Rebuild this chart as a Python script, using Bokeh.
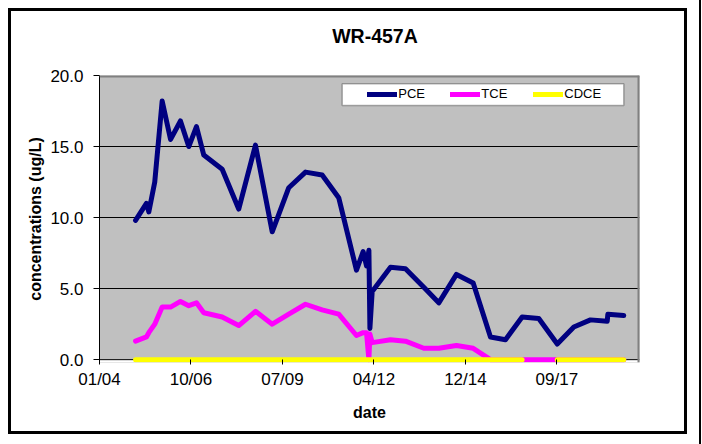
import numpy as np
import pandas as pd
from bokeh.plotting import figure
from bokeh.models import (ColumnDataSource, Range1d, FixedTicker, DatetimeTickFormatter,
                          NumeralTickFormatter, Legend, LegendItem, BoxAnnotation, Span, Title)
from bokeh.embed import file_html
from bokeh.resources import INLINE

# ---- data ----
dates = ["2005-02-11", "2005-06-10", "2005-07-06", "2005-09-09", "2005-11-29",
         "2006-03-01", "2006-06-17", "2006-09-16", "2006-12-09", "2007-02-27",
         "2007-09-16", "2008-03-15", "2008-09-14", "2009-03-16", "2009-09-13",
         "2010-03-15", "2010-09-13", "2011-03-13", "2011-09-23", "2011-12-05",
         "2012-01-11", "2012-02-06", "2012-02-17", "2012-03-13", "2012-09-29",
         "2013-03-12", "2013-09-28", "2014-03-11", "2014-09-20", "2015-03-22",
         "2015-09-27", "2016-03-09", "2016-09-07", "2017-03-08", "2017-09-26",
         "2018-03-26", "2018-09-24", "2019-03-26", "2019-04-02", "2019-09-23"]
pce = [9.8, 11.0, 10.4, 12.5, 18.2, 15.5, 16.8, 15.0, 16.4, 14.4,
       13.4, 10.6, 15.1, 9.0, 12.1, 13.2, 13.0, 11.4, 6.3, 7.6,
       6.6, 7.7, 2.2, 4.8, 6.5, 6.4, 5.1, 4.0, 6.0, 5.4,
       1.6, 1.4, 3.0, 2.9, 1.1, 2.3, 2.8, 2.7, 3.2, 3.1]
tce = [1.3, 1.6, 1.9, 2.5, 3.7, 3.7, 4.1, 3.8, 4.0, 3.3,
       3.0, 2.4, 3.4, 2.5, 3.2, 3.9, 3.5, 3.2, 1.7, 1.9,
       1.9, 0.0, 1.8, 1.2, 1.4, 1.3, 0.8, 0.8, 1.0, 0.8,
       0.0, 0.0, 0.0, 0.0, 0.0, 0.0, 0.0, 0.0, 0.0, 0.0]
cdce = [0.0] * 33 + [np.nan] + [0.0] * 6

series_names = ["PCE", "TCE", "CDCE"]
series_colors = ["#000080", "#FF00FF", "#FFFF00"]

x_tick_dates = ["2004-01-14", "2006-10-10", "2009-07-06", "2012-04-01", "2014-12-27", "2017-09-22"]
x_start, x_end = "2004-01-14", "2020-03-13"
y_ticks = [0, 5, 10, 15, 20]
y_grid = [5, 10, 15]

title_text = "WR-457A"
x_label = "date"
y_label = "concentrations (ug/L)"

# ---- build ----
def ms(s):
    return pd.Timestamp(s).value / 1e6

src = ColumnDataSource(dict(date=pd.to_datetime(dates), PCE=pce, TCE=tce, CDCE=cdce))

FONT = "Liberation Sans"
FL, FB = 99, 362.1   # frame left / bottom in page px
p = figure(width=702, height=444, x_axis_type="datetime",
           x_range=Range1d(ms(x_start), ms(x_end)), y_range=Range1d(-0.2, 20),
           output_backend="svg", toolbar_location=None,
           min_border_left=99, min_border_right=63, min_border_top=75, min_border_bottom=82)
p.background_fill_color = "#C0C0C0"
p.border_fill_alpha = 0
p.outline_line_color = None

# outer chart border, drawn as the page background behind the transparent canvas border
black = "linear-gradient(#000,#000)"
p.styles = {"background": ", ".join([
    f"{black} 8px 8px / 679px 3px no-repeat",
    f"{black} 8px 431px / 679px 3px no-repeat",
    f"{black} 8px 8px / 3px 426px no-repeat",
    f"{black} 684px 8px / 3px 426px no-repeat",
    f"{black} 699px 0px / 2px 444px no-repeat",
    "#ffffff"])}

# title: a blank second line lifts the text higher above the plot area
p.title = Title(text=title_text + "\n ", align="left", offset=232.7, standoff=14,
                vertical_align="bottom",
                text_font=FONT, text_font_size="19.5px", text_font_style="bold", text_color="black")

# white band below the zero line, then the zero axis line
p.add_layout(BoxAnnotation(top=0, fill_color="white", fill_alpha=1, line_alpha=0, level="underlay"))
p.add_layout(Span(location=0, dimension="width", line_color="black", line_width=1, level="underlay"))

renderers = []
for name, col in zip(series_names, series_colors):
    r = p.line("date", name, source=src, line_color=col, line_width=5,
               line_join="round", line_cap="round")
    renderers.append(r)

# axes
p.xaxis.ticker = FixedTicker(ticks=[ms(d) for d in x_tick_dates])
p.xaxis.formatter = DatetimeTickFormatter(days="%m/%y", months="%m/%y", years="%m/%y")
p.yaxis.ticker = FixedTicker(ticks=y_ticks)
p.yaxis.formatter = NumeralTickFormatter(format="0.0")
for ax in (p.xaxis[0], p.yaxis[0]):
    ax.axis_line_color = "black"
    ax.major_tick_line_color = "black"
    ax.minor_tick_line_color = None
    ax.major_label_text_font = FONT
    ax.major_label_text_font_size = "17px"
    ax.major_label_text_color = "black"
    ax.axis_label_text_font = FONT
    ax.axis_label_text_font_size = "16px"
    ax.axis_label_text_font_style = "bold"
    ax.axis_label_text_color = "black"
p.xaxis.axis_line_color = None
p.xaxis.major_tick_in = 3
p.xaxis.major_tick_out = 2
p.yaxis.major_tick_in = 0
p.yaxis.major_tick_out = 6
p.xaxis.major_label_standoff = 5
p.yaxis.major_label_standoff = 10
p.xaxis.axis_label = x_label
p.yaxis.axis_label = y_label
p.xaxis.axis_label_standoff = 12
p.yaxis.axis_label_standoff = 3

p.xgrid.grid_line_color = None
p.ygrid.ticker = FixedTicker(ticks=y_grid)
p.ygrid.grid_line_color = "black"
p.ygrid.grid_line_width = 1

# grey plot-area border on top and right
p.add_layout(Span(location=20, dimension="width", line_color="#808080", line_width=4))
p.add_layout(Span(location=ms(x_end), dimension="height", line_color="#808080", line_width=4))

# legend box
p.add_layout(BoxAnnotation(left=341.7 - FL, right=623.3 - FL, bottom=FB - 105, top=FB - 83.3,
                           left_units="screen", right_units="screen",
                           top_units="screen", bottom_units="screen",
                           fill_color="white", fill_alpha=1, line_color="black", line_width=1.5))

legend = Legend(items=[LegendItem(label=n, renderers=[r]) for n, r in zip(series_names, renderers)],
                orientation="horizontal", location=(367.3 - FL, FB - 101.2),
                padding=0, spacing=16, margin=0, label_width=36, label_height=14,
                glyph_width=30, glyph_height=14, label_standoff=1,
                border_line_alpha=0, background_fill_alpha=0,
                label_text_font=FONT, label_text_font_size="13px", label_text_color="black")
p.add_layout(legend, "center")

open("out.html", "w").write(file_html(p, INLINE))
